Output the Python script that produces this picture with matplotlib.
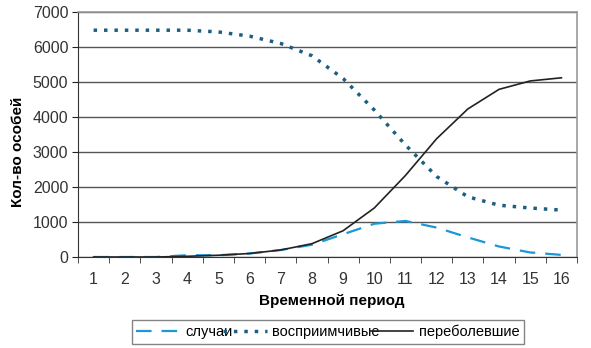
import matplotlib.pyplot as plt
import numpy as np

plt.rcParams['font.family'] = ['Liberation Sans', 'DejaVu Sans']

periods = list(range(1, 17))
cases = [0, 0, 0, 50, 50, 100, 200, 350, 650, 950, 1030, 840, 560, 300, 130, 60]
susceptible = [6480, 6480, 6480, 6480, 6430, 6310, 6100, 5750, 5100, 4200, 3200, 2300,
               1720, 1480, 1400, 1340]
recovered = [0, 0, 0, 20, 50, 100, 200, 380, 750, 1400, 2330, 3380, 4230, 4790, 5030, 5120]

fig = plt.figure(figsize=(5.91, 3.48), dpi=100)
ax = fig.add_axes([78 / 591, 1 - 257 / 348, 499 / 591, 245 / 348])

x = np.arange(len(periods))
l1, = ax.plot(x, cases, color='#1b97d8', lw=1.6, ls=(0, (7, 4.5)), label='случаи')
l2, = ax.plot(x, susceptible, color='#1c5f80', lw=2.5, ls=(0, (1, 2)),
              label='восприимчивые')
l3, = ax.plot(x, recovered, color='#222222', lw=1.2, label='переболевшие')

# категории по центру, засечки между ними
ax.set_xlim(-0.5, len(periods) - 0.5)
ax.set_ylim(0, 7000)
ax.set_yticks(range(0, 7001, 1000))
ax.set_xticks(x)
ax.set_xticklabels([str(p) for p in periods])
ax.set_xticks(np.arange(-0.5, len(periods), 1), minor=True)
ax.tick_params(axis='x', which='major', length=0, pad=11, labelsize=11.5, labelcolor='#333333')
ax.tick_params(axis='x', which='minor', length=4, direction='out', color='#333333')
ax.tick_params(axis='y', length=4, direction='out', labelsize=11.5, labelcolor='#333333',
               color='#222222', pad=3)

ax.yaxis.grid(True, color='#555555', lw=1.0)
ax.set_axisbelow(True)
for side in ('top', 'right'):
    ax.spines[side].set_color('#999999')
    ax.spines[side].set_linewidth(1.2)
ax.spines['left'].set_color('#333333')
ax.spines['bottom'].set_color('#333333')

ax.set_xlabel('Временной период', fontsize=11, fontweight='bold', va='center')
ax.set_ylabel('Кол-во особей', fontsize=11, fontweight='bold', va='center')
ax.xaxis.set_label_coords(332 / 591, 1 - 301 / 348, transform=fig.transFigure)
ax.yaxis.set_label_coords(18 / 591, 1 - 152 / 348, transform=fig.transFigure)

leg = fig.legend(handles=[l1, l2, l3], loc='center', bbox_to_anchor=(328 / 591, 1 - 332 / 348),
                 ncol=3, frameon=True, fancybox=False, fontsize=10.5,
                 handlelength=3.0, handletextpad=0.4, columnspacing=-0.7,
                 borderpad=0.3, borderaxespad=0)
leg.get_frame().set_edgecolor('#666666')
leg.get_frame().set_linewidth(1.0)

fig.savefig('out.png', dpi=100)
